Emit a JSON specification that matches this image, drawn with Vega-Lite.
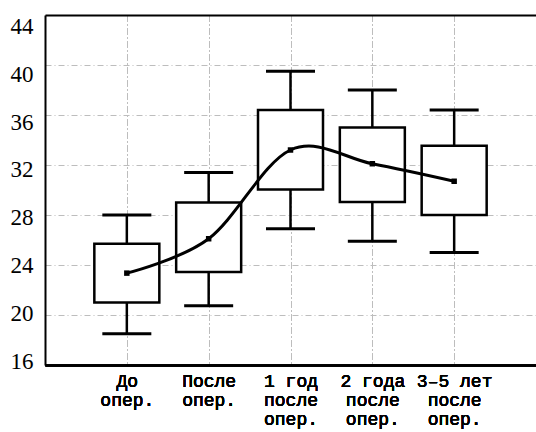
{
  "$schema": "https://vega.github.io/schema/vega-lite/v6.json",
  "width": 491,
  "height": 350,
  "autosize": {"type": "none"},
  "padding": {"left": 45, "top": 15, "right": 0, "bottom": 67},
  "background": "white",
  "config": {
    "view": {"stroke": null},
    "axis": {
      "gridColor": "#bdbdbd",
      "gridDash": [6, 3, 1, 3],
      "gridWidth": 1,
      "domainColor": "black",
      "domainWidth": 2,
      "ticks": false,
      "tickSize": 0,
      "labelColor": "black",
      "labelFontWeight": "normal",
      "title": null
    }
  },
  "data": {
    "values": [
      {"cat": "До|опер.", "min": 18.5, "q1": 21.0, "q3": 25.7, "max": 28.0, "mean": 23.35},
      {"cat": "После|опер.", "min": 20.75, "q1": 23.45, "q3": 29.0, "max": 31.4, "mean": 26.1},
      {"cat": "1 год|после|опер.", "min": 26.9, "q1": 30.05, "q3": 36.4, "max": 39.5, "mean": 33.2},
      {"cat": "2 года|после|опер.", "min": 25.9, "q1": 29.05, "q3": 35.0, "max": 38.0, "mean": 32.1},
      {"cat": "3–5 лет|после|опер.", "min": 25.0, "q1": 28.0, "q3": 33.55, "max": 36.4, "mean": 30.7}
    ]
  },
  "encoding": {
    "x": {
      "field": "cat",
      "type": "nominal",
      "sort": null,
      "scale": {"type": "point", "padding": 1},
      "axis": {
        "orient": "bottom",
        "grid": true,
        "labelAngle": 0,
        "labelExpr": "split(datum.label, '|')",
        "labelFont": "Liberation Mono",
        "labelFontSize": 18,
        "labelFontWeight": "normal",
        "labelLineHeight": 19,
        "labelPadding": 7,
        "labelBaseline": "top"
      }
    }
  },
  "layer": [
    {
      "mark": {"type": "rule", "color": "black", "strokeWidth": 2.5},
      "encoding": {
        "y": {
          "field": "q3",
          "type": "quantitative",
          "scale": {"domain": [16, 44], "nice": false, "zero": false},
          "axis": {
            "values": [16, 20, 24, 28, 32, 36, 40, 44],
            "grid": true,
            "labelFont": "Liberation Serif",
            "labelFontSize": 23,
            "labelFontWeight": "normal",
            "labelPadding": 12,
            "labelFlush": false,
            "labelOverlap": false,
            "labelBaseline": "middle",
            "labelOffset": {"expr": "(datum.value - 30) * 0.55 + 3.7"}
          }
        },
        "y2": {"field": "max"}
      }
    },
    {
      "mark": {"type": "rule", "color": "black", "strokeWidth": 2.5},
      "encoding": {
        "y": {"field": "min", "type": "quantitative"},
        "y2": {"field": "q1"}
      }
    },
    {
      "mark": {"type": "tick", "color": "black", "opacity": 1, "size": 49, "thickness": 3},
      "encoding": {"y": {"field": "max", "type": "quantitative"}}
    },
    {
      "mark": {"type": "tick", "color": "black", "opacity": 1, "size": 49, "thickness": 3},
      "encoding": {"y": {"field": "min", "type": "quantitative"}}
    },
    {
      "mark": {"type": "bar", "fill": "white", "stroke": "black", "strokeWidth": 2.5, "size": 65},
      "encoding": {
        "y": {"field": "q1", "type": "quantitative"},
        "y2": {"field": "q3"}
      }
    },
    {
      "mark": {"type": "line", "color": "black", "strokeWidth": 3, "interpolate": "cardinal"},
      "encoding": {
        "x": {
          "field": "cat",
          "type": "nominal",
          "sort": null,
          "axis": {"orient": "top", "labels": false, "grid": false, "domain": true}
        },
        "y": {"field": "mean", "type": "quantitative"}
      }
    },
    {
      "mark": {"type": "square", "color": "black", "filled": true, "size": 30, "opacity": 1},
      "encoding": {"y": {"field": "mean", "type": "quantitative"}}
    }
  ]
}
